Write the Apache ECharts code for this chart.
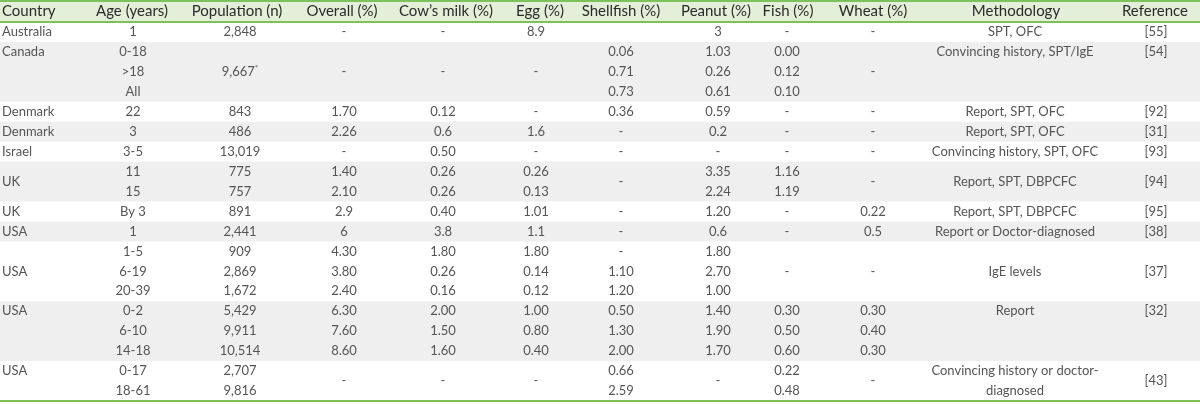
<!DOCTYPE html>
<html><head><meta charset="utf-8">
<script src="https://cdn.jsdelivr.net/npm/echarts@6/dist/echarts.min.js"></script>
<style>html,body{margin:0;padding:0;background:#fff}#c{width:1200px;height:404px}</style>
</head><body><div id="c"></div><script>
// ---- DATA ----
const headers = ['Country','Age (years)','Population (n)','Overall (%)','Cow\u2019s milk (%)','Egg (%)','Shellfish (%)','Peanut (%)','Fish (%)','Wheat (%)','Methodology','Reference'];
// number of table rows per study (for the alternating shading)
const studySizes = [1,3,1,1,1,2,1,1,3,3,2];
// {v, span} = merged cell spanning several rows; null = covered by a merged cell
const country = ['Australia','Canada','','','Denmark','Denmark','Israel',{v:'UK',span:2},null,'UK','USA','','USA','','USA','','','USA',''];
const age = ['1','0-18','>18','All','22','3','3-5','11','15','By 3','1','1-5','6-19','20-39','0-2','6-10','14-18','0-17','18-61'];
const population = ['2,848','','9,667*','','843','486','13,019','775','757','891','2,441','909','2,869','1,672','5,429','9,911','10,514','2,707','9,816'];
const overall = ['-','','-','','1.70','2.26','-','1.40','2.10','2.9','6','4.30','3.80','2.40','6.30','7.60','8.60',{v:'-',span:2},null];
const cowsMilk = ['-','','-','','0.12','0.6','0.50','0.26','0.26','0.40','3.8','1.80','0.26','0.16','2.00','1.50','1.60',{v:'-',span:2},null];
const egg = ['8.9','','-','','-','1.6','-','0.26','0.13','1.01','1.1','1.80','0.14','0.12','1.00','0.80','0.40',{v:'-',span:2},null];
const shellfish = ['','0.06','0.71','0.73','0.36','-','-',{v:'-',span:2},null,'-','-','-','1.10','1.20','0.50','1.30','2.00','0.66','2.59'];
const peanut = ['3','1.03','0.26','0.61','0.59','0.2','-','3.35','2.24','1.20','0.6','1.80','2.70','1.00','1.40','1.90','1.70',{v:'-',span:2},null];
const fish = ['-','0.00','0.12','0.10','-','-','-','1.16','1.19','-','-','','-','','0.30','0.50','0.60','0.22','0.48'];
const wheat = ['-','','-','','-','-','-',{v:'-',span:2},null,'0.22','0.5','','-','','0.30','0.40','0.30',{v:'-',span:2},null];
const methodology = ['SPT, OFC','Convincing history, SPT/IgE','','','Report, SPT, OFC','Report, SPT, OFC','Convincing history, SPT, OFC',{v:'Report, SPT, DBPCFC',span:2},null,'Report, SPT, DBPCFC','Report or Doctor-diagnosed','','IgE levels','','Report','','','Convincing history or doctor-','diagnosed'];
const reference = ['[55]','[54]','','','[92]','[31]','[93]',{v:'[94]',span:2},null,'[95]','[38]','','[37]','','[32]','','',{v:'[43]',span:2},null];
const columns = [country, age, population, overall, cowsMilk, egg, shellfish, peanut, fish, wheat, methodology, reference];

// ---- LAYOUT ----
const colX  = [2,133,240,344,443,536,621,718,787,873,1015,1156];
const headX = [2,132,237,342,446,540,621,716,788,873,1016,1155];
const nRows = age.length;
const headerTop = -1.05;
const FONT = 'Lato, "Open Sans", sans-serif';

const cells = [];
headers.forEach((h, c) => cells.push({col: c, x: headX[c], y: headerTop / 2, text: h, header: true}));
columns.forEach((arr, c) => {
  arr.forEach((e, r) => {
    if (e === null || e === '') return;
    let text = e, y = r + 0.5;
    if (typeof e === 'object') { text = e.v; y = r + e.span / 2; }
    cells.push({col: c, x: colX[c], y: y, text: text, header: false});
  });
});

const bands = [];
let start = 0;
studySizes.forEach((n, i) => { bands.push([start, start + n, i % 2]); start += n; });

const chart = echarts.init(document.getElementById('c'), null, {renderer: 'canvas'});
chart.setOption({
  animation: false,
  grid: {left: 0, right: 0, top: 22, bottom: 3},
  xAxis: {type: 'value', min: 0, max: 1200, show: false},
  yAxis: {type: 'value', min: 0, max: nRows, inverse: true, show: false},
  series: [
    {
      type: 'custom', clip: false, silent: true, z: 1,
      data: bands.concat([[headerTop, 0, 2]]),
      renderItem: function (params, api) {
        const a = api.coord([0, api.value(0)]);
        const b = api.coord([1200, api.value(1)]);
        const k = api.value(2);
        if (k === 0) return null;
        return {type: 'rect', shape: {x: a[0], y: a[1], width: b[0] - a[0], height: b[1] - a[1]},
          style: {fill: k === 2 ? '#e3efd9' : '#efefef'}};
      }
    },
    {
      type: 'custom', clip: false, silent: true, z: 2,
      data: [[headerTop], [0], [nRows]],
      renderItem: function (params, api) {
        const a = api.coord([0, api.value(0)]);
        const b = api.coord([1200, api.value(0)]);
        return {type: 'line', shape: {x1: a[0], y1: a[1], x2: b[0], y2: b[1]},
          style: {stroke: '#7cc15a', lineWidth: 2}};
      }
    },
    {
      type: 'custom', clip: false, silent: true, z: 3,
      data: cells.map(c => [c.x, c.y]),
      renderItem: function (params, api) {
        const cell = cells[params.dataIndex];
        const p = api.coord([api.value(0), api.value(1)]);
        const size = cell.header ? 15 : 13;
        const color = cell.header ? '#2b2b2b' : '#555555';
        let text = cell.text;
        const style = {
          fontFamily: FONT, fontSize: size, fill: color,
          align: cell.col === 0 ? 'left' : 'center', verticalAlign: 'middle'
        };
        if (text.endsWith('*')) {
          text = '{a|' + text.slice(0, -1) + '}{s|*}';
          style.rich = {
            a: {fontFamily: FONT, fontSize: size, fill: color},
            s: {fontFamily: FONT, fontSize: 8, fill: color, padding: [0, 0, 7, 0]}
          };
        }
        style.text = text;
        return {type: 'text', x: p[0], y: p[1], style: style};
      }
    }
  ]
});
</script></body></html>
